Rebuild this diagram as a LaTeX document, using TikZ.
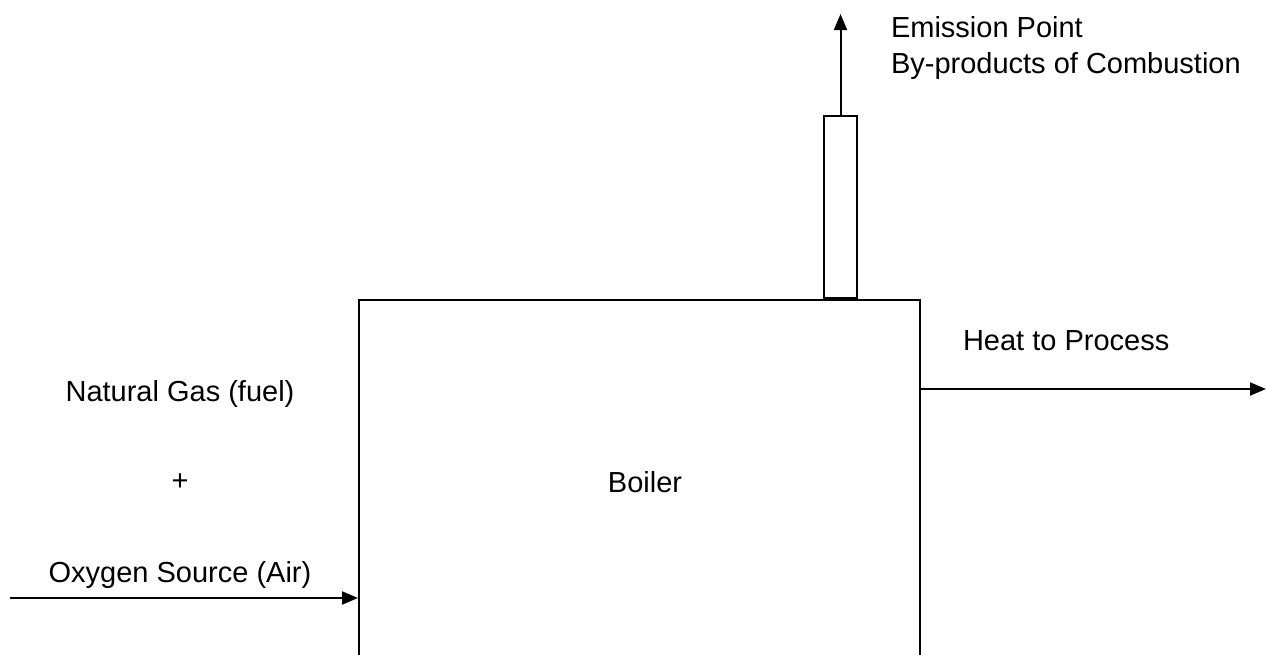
\documentclass[tikz,border=0pt]{standalone}
\usepackage{fontspec}
\setmainfont{Liberation Sans}
\usetikzlibrary{arrows.meta}
\begin{document}
\begin{tikzpicture}[x=1pt,y=-1pt,line width=2pt,
  lbl/.style={inner sep=0pt,font=\fontsize{29}{35}\selectfont},
  box/.style={draw,inner sep=0pt},
  arr/.style={-{Triangle[length=16pt,width=13pt]}}]
\useasboundingbox (0,0) rectangle (1267,654);
\clip (0,0) rectangle (1267,654);
% boiler (bottom edge lies below the picture)
\node[box,minimum width=561pt,minimum height=420pt,anchor=north west] (boiler) at (358,299) {};
\node[lbl,anchor=base] (boilertxt) at (645,492.4) {Boiler};
% stack
\node[box,minimum width=33pt,minimum height=182pt,anchor=south] (stack) at (840.5,299) {};
\coordinate (emit) at (840.5,14);
\draw[arr] (stack.north) -- (emit);
\node[lbl,anchor=base west] (emis1) at (890,37) {Emission Point};
\node[lbl,anchor=base west] (emis2) at (890,73) {By-products of Combustion};
% heat output
\coordinate (heatstart) at (919,389);
\coordinate (heatend) at (1266,389);
\draw[arr] (heatstart) -- (heatend);
\node[lbl,anchor=base west] (heattxt) at (962,350.4) {Heat to Process};
% inputs
\node[lbl,anchor=base] (gas) at (180,401.4) {Natural Gas (fuel)};
\node[lbl] (plus) at (180,482) {+};
\node[lbl,anchor=base] (oxy) at (180,582) {Oxygen Source (Air)};
\coordinate (feedstart) at (10,598);
\coordinate (feedend) at (358,598);
\draw[arr] (feedstart) -- (feedend);
\end{tikzpicture}
\end{document}
